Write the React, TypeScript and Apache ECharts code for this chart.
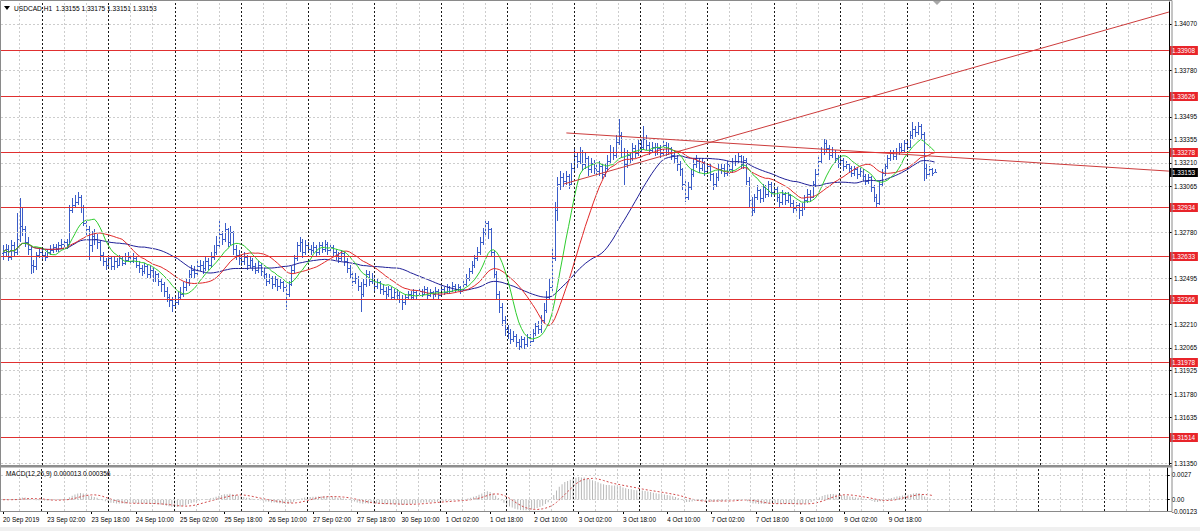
import React, { useEffect, useRef } from "react";
import * as echarts from "echarts";

// Hourly USDCAD bars, values read in pips above BASE_PRICE (1.32000)
const BASE_PRICE = 1.32;
const PIP = 0.0001;

const opens = [
  65,66,68,63,70,66,74,82,80,72,
  68,58,57,64,66,64,63,66,67,69,
  68,70,71,72,71,92,95,97,100,94,
  84,80,70,76,74,72,64,60,58,62,
  57,60,58,62,59,61,63,60,62,58,
  56,54,57,52,55,50,52,48,46,42,
  38,36,33,35,38,40,44,47,52,55,
  53,57,58,56,60,58,63,66,70,77,
  74,80,72,78,68,64,62,60,63,58,
  61,57,55,58,54,52,48,50,46,49,
  45,47,44,40,46,55,62,70,72,66,
  70,68,67,69,66,70,68,71,67,69,
  66,64,62,65,60,56,52,48,50,45,
  40,46,52,48,50,45,47,43,42,40,
  43,38,41,39,37,35,38,40,38,41,
  39,42,40,43,39,41,40,42,39,43,
  41,44,42,45,43,44,42,46,50,54,
  58,62,66,72,78,84,80,66,52,40,
  32,24,18,16,12,14,10,8,12,9,
  13,11,16,20,18,24,30,38,44,62,
  92,108,112,110,113,108,118,125,122,128,
  120,124,117,121,118,116,119,114,118,122,
  128,126,134,138,128,120,126,124,130,127,
  133,131,136,132,129,131,128,130,127,132,
  128,130,126,124,120,117,108,100,106,114,
  120,122,118,121,116,119,114,108,112,117,
  118,115,120,117,121,122,125,120,123,110,
  98,92,100,104,99,106,102,108,103,105,
  100,97,102,98,101,96,93,95,92,94,
  98,102,100,108,114,122,128,133,130,126,
  128,124,121,123,119,120,118,115,117,114,
  116,113,110,112,106,100,96,108,115,119,
  124,127,125,128,131,129,133,131,138,142,
  140,144,139,118,114,117,115.5,
];
const highs = [
  70,71,70,73,72,90,99,94,82,75,
  69,61,66,68,68,66,68,70,71,71,
  72,74,74,74,95,99,101,103,101,95,
  86,82,79,80,77,73,66,62,64,63,
  63,62,64,63,65,66,64,65,63,60,
  58,59,58,57,56,54,53,50,47,44,
  40,38,38,41,44,47,50,55,58,57,
  60,61,60,63,62,66,70,76,86,79,
  84,81,82,79,70,67,64,66,64,63,
  62,59,60,59,56,53,52,51,51,50,
  49,48,46,48,57,64,72,75,74,73,
  72,70,72,70,72,72,73,72,71,70,
  68,66,67,66,62,58,54,53,51,47,
  49,55,54,53,51,50,48,46,44,45,
  44,43,43,41,39,40,42,42,43,42,
  44,43,45,44,43,42,44,43,45,44,
  46,45,47,46,46,45,48,52,56,60,
  64,69,75,81,86,85,81,67,54,42,
  34,26,21,18,17,15,12,14,13,15,
  15,18,22,23,27,34,42,50,68,97,
  112,116,115,116,114,121,131,127,131,129,
  127,125,124,123,120,122,120,121,126,132,
  131,138,148,140,130,129,128,133,132,136,
  135,144,138,134,134,133,133,132,135,134,
  133,131,129,126,122,118,110,109,117,124,
  126,124,124,122,121,120,115,115,120,121,
  120,122,121,124,126,128,126,125,124,112,
  100,102,107,105,108,107,110,109,108,106,
  102,104,103,103,102,98,97,96,96,101,
  105,104,110,117,125,131,136,135,132,131,
  129,126,125,124,122,121,119,119,118,118,
  117,114,114,113,107,102,110,117,121,126,
  129,129,130,133,133,135,135,141,146,144,
  146,145,140,120,119,118,117.5,
];
const lows = [
  61,63,60,61,63,64,72,76,69,64,
  52,53,55,62,61,60,62,64,65,66,
  66,68,69,68,70,90,93,95,90,82,
  76,61,66,70,68,60,57,55,56,55,
  55,56,57,57,58,60,58,59,56,53,
  51,52,50,49,47,47,45,41,38,35,
  32,29,31,33,36,38,42,45,50,49,
  51,54,52,54,55,56,61,64,68,70,
  72,69,70,64,61,58,57,58,55,56,
  54,52,53,51,49,45,46,43,44,42,
  43,41,30,38,45,53,60,66,62,64,
  65,64,65,63,64,65,66,64,65,63,
  61,59,60,57,53,49,45,46,42,29,
  38,44,45,46,42,43,40,39,37,38,
  36,36,36,34,30,33,36,36,37,37,
  38,38,39,37,38,37,38,37,38,39,
  40,40,41,41,42,40,41,45,48,52,
  56,60,64,70,76,74,63,49,37,28,
  20,14,12,9,10,7,5,6,6,7,
  8,10,14,15,16,22,28,36,42,60,
  85,104,106,107,105,107,116,118,120,116,
  117,113,115,114,112,113,111,112,116,120,
  123,124,132,124,107,118,120,122,124,125,
  127,129,129,126,127,125,126,124,125,125,
  126,123,120,116,113,104,97,98,104,112,
  118,115,116,113,114,110,104,106,110,114,
  112,113,114,115,119,120,117,117,107,94,
  88,90,98,96,97,99,100,100,101,97,
  94,95,95,96,93,90,90,86,88,92,
  96,97,99,106,112,120,126,127,123,124,
  121,118,119,116,117,115,112,113,111,112,
  110,107,108,103,97,94,95,106,113,117,
  122,123,123,126,127,128,129,130,136,137,
  138,136,110,111,112,113,115.1,
];
const closes = [
  66,68,63,70,66,74,82,80,72,68,
  58,57,64,66,64,63,66,67,69,68,
  70,71,72,71,92,95,97,100,94,84,
  80,70,76,74,72,64,60,58,62,57,
  60,58,62,59,61,63,60,62,58,56,
  54,57,52,55,50,52,48,46,42,38,
  36,33,35,38,40,44,47,52,55,53,
  57,58,56,60,58,63,66,70,77,74,
  80,72,78,68,64,62,60,63,58,61,
  57,55,58,54,52,48,50,46,49,45,
  47,44,40,46,55,62,70,72,66,70,
  68,67,69,66,70,68,71,67,69,66,
  64,62,65,60,56,52,48,50,45,40,
  46,52,48,50,45,47,43,42,40,43,
  38,41,39,37,35,38,40,38,41,39,
  42,40,43,39,41,40,42,39,43,41,
  44,42,45,43,44,42,46,50,54,58,
  62,66,72,78,84,80,66,52,40,32,
  24,18,16,12,14,10,8,12,9,13,
  11,16,20,18,24,30,38,44,62,92,
  108,112,110,113,108,118,125,122,128,120,
  124,117,121,118,116,119,114,118,122,128,
  126,134,138,128,120,126,124,130,127,133,
  131,136,132,129,131,128,130,127,132,128,
  130,126,124,120,117,108,100,106,114,120,
  122,118,121,116,119,114,108,112,117,118,
  115,120,117,121,122,125,120,123,110,98,
  92,100,104,99,106,102,108,103,105,100,
  97,102,98,101,96,93,95,92,94,98,
  102,100,108,114,122,128,133,130,126,128,
  124,121,123,119,120,118,115,117,114,116,
  113,110,112,106,100,96,108,115,119,124,
  127,125,128,131,129,133,131,138,142,140,
  144,139,118,114,117,115,115.3,
];

const xTickIndex = [0,16,32,48,64,80,96,112,128,144,160,176,192,208,224,240,256,272,288,304,320];
const xTickLabels = [
  "20 Sep 2019","23 Sep 02:00","23 Sep 18:00","24 Sep 10:00","25 Sep 02:00","25 Sep 18:00",
  "26 Sep 10:00","27 Sep 02:00","27 Sep 18:00","30 Sep 10:00","1 Oct 02:00","1 Oct 18:00",
  "2 Oct 10:00","3 Oct 02:00","3 Oct 18:00","4 Oct 10:00","7 Oct 02:00","7 Oct 18:00",
  "8 Oct 10:00","9 Oct 02:00","9 Oct 18:00",
];
// price-scale labels visible beside the level tags
const yTickValues = [
  1.3135,1.31635,1.3178,1.31925,1.32065,1.3221,1.32495,
  1.3278,1.33065,1.3321,1.33355,1.33495,1.3378,1.3407,
];
const macdTickValues = [0.0027, 0, -0.00123];
const macdTickLabels = ["0.0027", "0.00", "-0.00123"];
const macdGridValues = [0.0027, 0];

const levelPrices = [1.33908,1.33626,1.33278,1.32934,1.32633,1.32366,1.31978,1.31514];
const lastPrice = 1.33153;
const trendRising = [[202.2, 1.33079], [420.5, 1.34143]];
const trendFalling = [[203.2, 1.33395], [420.5, 1.33159]];
const periodSeparators = [14,38,62,86,110,134,158,182,206,230,254,278,302,326,350,374,398];

const headerText = "USDCAD,H1  1.33155 1.33175 1.33151 1.33153";
const macdHeaderText = "MACD(12,26,9) 0.000013 0.000356";

const X_MIN = -0.7, X_MAX = 420.5;
const Y_MIN = 1.31341, Y_MAX = 1.34205;
const M_MIN = -0.00123, M_MAX = 0.00346;

const FONT = "Liberation Sans";
const FS = 6.4;
const BAR_COLOR = "#3a5cc8";
const LEVEL_COLOR = "#e03030";
const TAG_COLOR = "#e8242a";

function sma(values: number[], n: number) {
  return values.map((_, i) => {
    const s = Math.max(0, i - n + 1);
    let sum = 0;
    for (let j = s; j <= i; j++) sum += values[j];
    return sum / (i - s + 1);
  });
}
function ema(values: number[], n: number) {
  const k = 2 / (n + 1);
  const out: number[] = [];
  let prev = values[0];
  values.forEach((v, i) => {
    prev = i === 0 ? v : v * k + prev * (1 - k);
    out.push(prev);
  });
  return out;
}

export default function App() {
  const ref = useRef<HTMLDivElement>(null);
  useEffect(() => {
    if (!ref.current) return;
    const chart = echarts.init(ref.current, undefined, { renderer: "svg" });
    const px = (v: number) => BASE_PRICE + v * PIP;
    const closeP = closes.map(px);
    const ohlc = closes.map((_, i) => [i, px(opens[i]), px(highs[i]), px(lows[i]), px(closes[i])]);
    const maG = sma(closeP, 10).map((v, i) => [i, v]);
    const maR = sma(closeP, 20).map((v, i) => [i, v]);
    const maB = sma(closeP, 40).map((v, i) => [i, v]);
    const e12 = ema(closeP, 12);
    const e26 = ema(closeP, 26);
    const macd = e12.map((v, i) => v - e26[i]);
    const signal = sma(macd, 9);

    const vGrid: number[] = [];
    for (let v = 6; v <= X_MAX; v += 8) if (!periodSeparators.includes(v)) vGrid.push(v);
    const gridStyle = { color: "#cdcdcd", width: 1, type: [2, 2] as any };
    const sepStyle = { color: "#1a1a1a", width: 1, type: [2, 2] as any };
    const vGridLines = vGrid.map((v) => ({ xAxis: v, lineStyle: gridStyle }));
    const sepLines = periodSeparators.map((v) => ({ xAxis: v, lineStyle: sepStyle }));
    const hGridLines = yTickValues.map((v) => ({ yAxis: v, lineStyle: gridStyle }));
    const hGridMacd = macdGridValues.map((v) => ({ yAxis: v, lineStyle: gridStyle }));

    const snap = (v: number) => Math.round(v) + 0.5;

    // level lines: [price, isLastPrice]
    const levelData = [...levelPrices.map((p) => [p, 0]), [lastPrice, 1]];

    const option: any = {
      animation: false,
      backgroundColor: "#ffffff",
      grid: [
        { left: 1, top: 2, width: 1171, height: 463 },
        { left: 1, top: 468, width: 1171, height: 43 },
      ],
      xAxis: [
        { gridIndex: 0, type: "value", min: X_MIN, max: X_MAX, show: false, splitLine: { show: false } },
        {
          gridIndex: 1, type: "value", min: X_MIN, max: X_MAX, position: "bottom",
          axisLine: { show: true, onZero: false, lineStyle: { color: "#000", width: 1 } },
          axisTick: { show: true, customValues: xTickIndex, length: 3, lineStyle: { color: "#000" } },
          axisLabel: {
            customValues: xTickIndex,
            formatter: (v: number) => xTickLabels[xTickIndex.indexOf(v)] ?? "",
            align: "left", fontSize: FS, fontFamily: FONT, color: "#000", margin: 5,
          },
          splitLine: { show: false },
        },
      ],
      yAxis: [
        {
          gridIndex: 0, type: "value", position: "right", min: Y_MIN, max: Y_MAX,
          axisLine: { show: true, onZero: false, lineStyle: { color: "#000", width: 1 } },
          axisTick: { show: true, customValues: yTickValues, length: 3, lineStyle: { color: "#000" } },
          axisLabel: {
            customValues: yTickValues,
            formatter: (v: number) => v.toFixed(5),
            fontSize: FS, fontFamily: FONT, color: "#000", margin: 5,
          },
          splitLine: { show: false },
        },
        {
          gridIndex: 1, type: "value", position: "right", min: M_MIN, max: M_MAX,
          axisLine: { show: true, onZero: false, lineStyle: { color: "#000", width: 1 } },
          axisTick: { show: true, customValues: macdTickValues, length: 3, lineStyle: { color: "#000" } },
          axisLabel: {
            customValues: macdTickValues,
            formatter: (v: number) => macdTickLabels[macdTickValues.indexOf(v)] ?? "",
            fontSize: FS, fontFamily: FONT, color: "#000", margin: 5,
          },
          splitLine: { show: false },
        },
      ],
      series: [
        {
          type: "line", xAxisIndex: 0, yAxisIndex: 0, z: 1, silent: true,
          data: closeP.map((v, i) => [i, v]), showSymbol: false,
          lineStyle: { opacity: 0 },
          markLine: {
            silent: true, symbol: ["none", "none"], label: { show: false }, precision: 6,
            data: [...vGridLines, ...hGridLines, ...sepLines],
          },
        },
        {
          type: "line", xAxisIndex: 1, yAxisIndex: 1, z: 1, silent: true,
          data: macd.map((v, i) => [i, v]), showSymbol: false,
          lineStyle: { opacity: 0 },
          markLine: {
            silent: true, symbol: ["none", "none"], label: { show: false }, precision: 6,
            data: [...vGridLines, ...hGridMacd, ...sepLines],
          },
        },
        {
          type: "custom", xAxisIndex: 0, yAxisIndex: 0, z: 3, silent: true, clip: true,
          data: ohlc,
          encode: { x: 0, y: [1, 2, 3, 4] },
          renderItem: (_p: any, api: any) => {
            const x = api.value(0);
            const ph = api.coord([x, api.value(2)]);
            const pl = api.coord([x, api.value(3)]);
            const po = api.coord([x, api.value(1)]);
            const pc = api.coord([x, api.value(4)]);
            const style = { stroke: BAR_COLOR, lineWidth: 1 };
            const sx = snap(ph[0]);
            const hy = Math.round(ph[1]);
            const ly = Math.max(Math.round(pl[1]), hy + 1);
            const oy = snap(po[1]);
            const cy = snap(pc[1]);
            return {
              type: "group",
              children: [
                { type: "line", shape: { x1: sx, y1: hy, x2: sx, y2: ly }, style },
                { type: "line", shape: { x1: sx - 1.5, y1: oy, x2: sx, y2: oy }, style },
                { type: "line", shape: { x1: sx, y1: cy, x2: sx + 1.5, y2: cy }, style },
              ],
            };
          },
        },
        { type: "line", xAxisIndex: 0, yAxisIndex: 0, z: 4, silent: true, data: maB, showSymbol: false, lineStyle: { color: "#1e1e96", width: 1 } },
        { type: "line", xAxisIndex: 0, yAxisIndex: 0, z: 4, silent: true, data: maR, showSymbol: false, lineStyle: { color: "#e02828", width: 1 } },
        { type: "line", xAxisIndex: 0, yAxisIndex: 0, z: 4, silent: true, data: maG, showSymbol: false, lineStyle: { color: "#2ecc2e", width: 1 } },
        {
          type: "line", xAxisIndex: 0, yAxisIndex: 0, z: 5, silent: true, data: trendRising, showSymbol: false,
          lineStyle: { color: "#cc3b3b", width: 1 },
        },
        {
          type: "line", xAxisIndex: 0, yAxisIndex: 0, z: 5, silent: true, data: trendFalling, showSymbol: false,
          lineStyle: { color: "#cc3b3b", width: 1 },
        },
        {
          type: "custom", xAxisIndex: 0, yAxisIndex: 0, z: 6, silent: true, clip: false,
          data: levelData,
          encode: { y: 0 },
          renderItem: (params: any, api: any) => {
            const price = api.value(0);
            const isLast = api.value(1) === 1;
            const cs = params.coordSys;
            const y = api.coord([X_MIN, price])[1];
            const sy = snap(y);
            const right = cs.x + cs.width;
            const children: any[] = [];
            if (!isLast) {
              children.push({
                type: "line",
                shape: { x1: cs.x, y1: sy, x2: right, y2: sy },
                style: { stroke: LEVEL_COLOR, lineWidth: 1 },
              });
            }
            children.push({
              type: "rect",
              shape: { x: right + 1, y: Math.round(y) - 4, width: 28, height: 9 },
              style: { fill: isLast ? "#000" : TAG_COLOR },
            });
            children.push({
              type: "text",
              style: {
                text: price.toFixed(5), x: right + 3, y: Math.round(y) + 0.5,
                fill: "#fff", fontSize: FS, fontFamily: FONT, verticalAlign: "middle", align: "left",
              },
            });
            return { type: "group", children };
          },
        },
        {
          type: "bar", xAxisIndex: 1, yAxisIndex: 1, z: 3, silent: true, barWidth: 1,
          data: macd.map((v, i) => [i, v]),
          itemStyle: { color: "#b8b8b8" },
        },
        {
          type: "line", xAxisIndex: 1, yAxisIndex: 1, z: 4, silent: true, showSymbol: false,
          data: signal.map((v, i) => [i, v]),
          lineStyle: { color: "#d04848", width: 1, type: [2, 2] },
        },
      ],
      graphic: [
        { type: "rect", z: 100, silent: true, shape: { x: 0.5, y: 0.5, width: 1171.5, height: 511 }, style: { fill: "none", stroke: "#8a8a8a", lineWidth: 1 } },
        { type: "rect", z: 100, silent: true, shape: { x: 0, y: 465, width: 1172, height: 2.5 }, style: { fill: "#8e8e8e" } },
        { type: "rect", z: 100, silent: true, shape: { x: 0, y: 527, width: 1200, height: 4 }, style: { fill: "#f0f0f0" } },
        { type: "polygon", z: 100, silent: true, shape: { points: [[4, 6], [10, 6], [7, 10]] }, style: { fill: "#000" } },
        { type: "polygon", z: 100, silent: true, shape: { points: [[933, 1], [941, 1], [937, 5]] }, style: { fill: "#a8a8a8" } },
        { type: "text", z: 100, silent: true, style: { text: headerText, x: 14, y: 8, fill: "#000", fontSize: 6.6, fontFamily: FONT, verticalAlign: "middle" } },
        { type: "text", z: 100, silent: true, style: { text: macdHeaderText, x: 6, y: 473, fill: "#000", fontSize: 6.6, fontFamily: FONT, verticalAlign: "middle" } },
      ],
    };
    chart.setOption(option);
    return () => chart.dispose();
  }, []);
  return (
    <div
      ref={ref}
      style={{ position: "fixed", left: 0, top: 0, width: 1200, height: 531, background: "#fff" }}
    />
  );
}
